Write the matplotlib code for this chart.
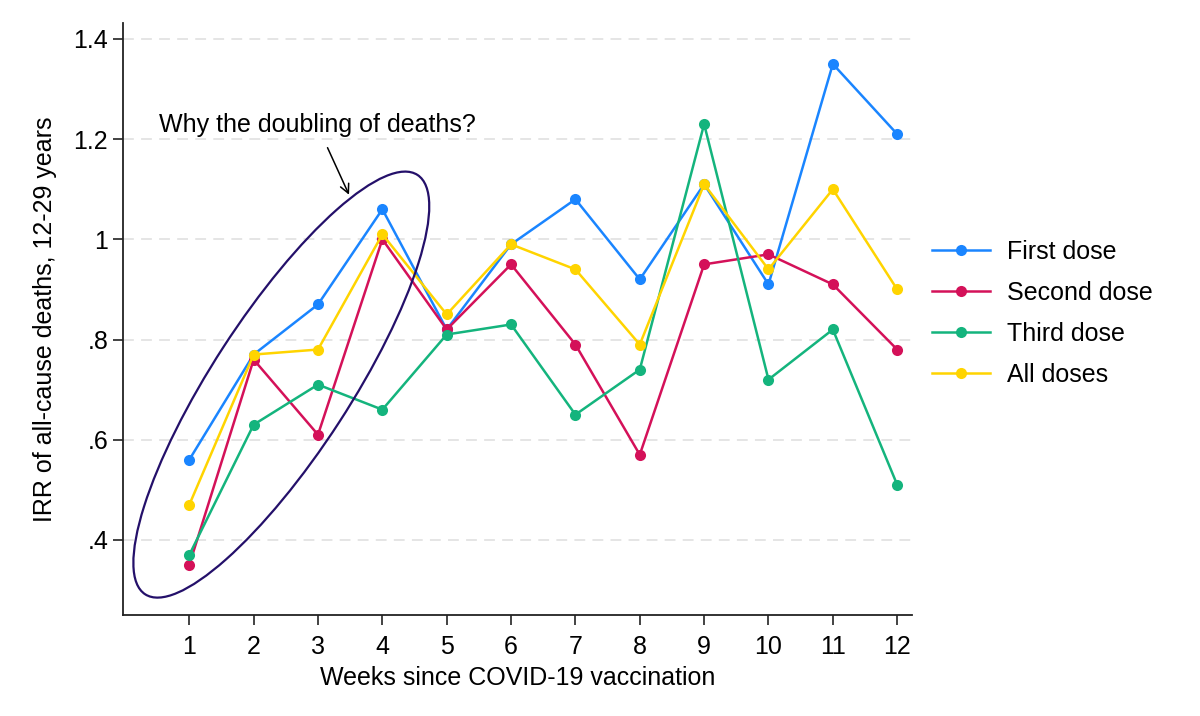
import matplotlib
matplotlib.use("Agg")
import matplotlib.pyplot as plt
from matplotlib.patches import Ellipse
from matplotlib.transforms import ScaledTranslation

plt.rcParams["font.family"] = ["Liberation Sans", "DejaVu Sans"]

# data
weeks = [1, 2, 3, 4, 5, 6, 7, 8, 9, 10, 11, 12]
first_dose = [0.56, 0.77, 0.87, 1.06, 0.82, 0.99, 1.08, 0.92, 1.11, 0.91, 1.35, 1.21]
second_dose = [0.35, 0.76, 0.61, 1.00, 0.82, 0.95, 0.79, 0.57, 0.95, 0.97, 0.91, 0.78]
third_dose = [0.37, 0.63, 0.71, 0.66, 0.81, 0.83, 0.65, 0.74, 1.23, 0.72, 0.82, 0.51]
all_doses = [0.47, 0.77, 0.78, 1.01, 0.85, 0.99, 0.94, 0.79, 1.11, 0.94, 1.10, 0.90]
series_names = ["First dose", "Second dose", "Third dose", "All doses"]
y_ticks = [0.4, 0.6, 0.8, 1.0, 1.2, 1.4]
y_ticklabels = [".4", ".6", ".8", "1", "1.2", "1.4"]

colors = ["#1A85FF", "#D41159", "#14B47D", "#FFD400"]
fs = 18

fig = plt.figure(figsize=(12, 7.16), dpi=100)
ax = fig.add_axes([0.1025, 0.141, 0.6575, 0.827])

for vals, name, c in zip([first_dose, second_dose, third_dose, all_doses], series_names, colors):
    ax.plot(weeks, vals, color=c, lw=1.8, marker="o", markersize=8,
            markeredgewidth=0, label=name, zorder=3)

ax.set_xlim(-0.03, 12.23)
ax.set_ylim(0.25, 1.432)
ax.set_xticks(weeks)
ax.set_yticks(y_ticks)
ax.set_yticklabels(y_ticklabels)
ax.grid(axis="y", color="#e3e3e3", lw=1.3, linestyle=(0, (6, 4)), zorder=0)
ax.tick_params(axis="both", labelsize=fs, length=7.2, width=1.2, color="#222222")
ax.tick_params(axis="x", pad=7)
for s in ["top", "right"]:
    ax.spines[s].set_visible(False)
for s in ["left", "bottom"]:
    ax.spines[s].set_color("#222222")
    ax.spines[s].set_linewidth(1.3)

ax.set_xlabel("Weeks since COVID-19 vaccination", fontsize=fs, labelpad=5)
ax.set_ylabel("IRR of all-cause deaths, 12-29 years", fontsize=fs, labelpad=12)

# annotation: ellipse (sized in inches) around weeks 1-4
ell = Ellipse((0, 0), 5.0, 1.38, angle=57, fill=False, edgecolor="#24106A", lw=1.6,
              transform=fig.dpi_scale_trans + ScaledTranslation(2.43, 0.71, ax.transData),
              zorder=4)
ax.add_patch(ell)
ax.annotate("", xy=(3.50, 1.084), xytext=(3.13, 1.188),
            arrowprops=dict(arrowstyle="->", color="black", lw=1.1, mutation_scale=16))
ax.text(0.534, 1.228, "Why the doubling of deaths?", fontsize=fs, va="center", ha="left")

fig.legend(loc="center left", bbox_to_anchor=(0.7767, 0.562), frameon=False,
           fontsize=fs, handlelength=2.3, handletextpad=0.7, labelspacing=0.68,
           borderpad=0, borderaxespad=0)

fig.savefig("out.png", dpi=100)
